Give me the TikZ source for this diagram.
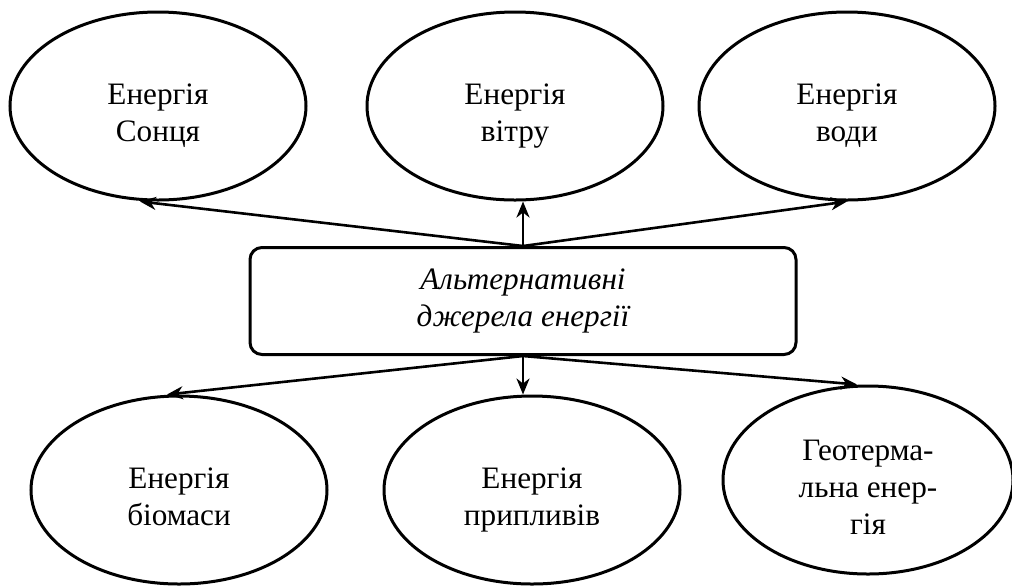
\documentclass[tikz,border=0pt]{standalone}
\usepackage{fontspec}
\setmainfont{Liberation Serif}
\usetikzlibrary{shapes.geometric,arrows.meta}

\newcommand{\lowtext}[1]{\raisebox{-5pt}[\height][\depth]{\begin{tabular}{@{}c@{}}#1\end{tabular}}}

\tikzset{
	source/.style={draw, ellipse, line width=1.5pt, inner sep=0pt, align=center,
		minimum width=148pt, minimum height=94pt},
	hub/.style={draw, rounded corners=6pt, line width=1.5pt, align=center,
		minimum width=273pt, minimum height=53.5pt, font=\fontsize{15.6}{18.5}\selectfont\itshape},
	link/.style={-{Stealth[length=8pt,width=6.5pt,inset=2.5pt]}, line width=1.3pt}
}

\begin{document}
\begin{tikzpicture}[x=0.5pt, y=-0.5pt, font=\fontsize{15.6}{18.5}\selectfont]
	\useasboundingbox (0,0) rectangle (1012,585);

	\node[source] (sun) at (158,106) {\lowtext{Енергія\\Сонця}};
	\node[source] (wind) at (515,106) {\lowtext{Енергія\\вітру}};
	\node[source] (water) at (847,106) {\lowtext{Енергія\\води}};
	\node[hub] (alt) at (523,301) {Альтернативні\\джерела енергії};
	\node[source] (bio) at (179,490) {\lowtext{Енергія\\біомаси}};
	\node[source] (tide) at (532,490) {\lowtext{Енергія\\припливів}};
	\node[source, minimum width=145pt] (geo) at (868,480) {\lowtext{Геотерма-\\льна енер-\\гія}};

	\draw[link] (alt.north) -- ([xshift=-9pt]sun.south);
	\draw[link] (alt.north) -- (alt.north |- wind.south);
	\draw[link] (alt.north) -- (water.south);
	\draw[link] (alt.south) -- ([xshift=-6pt]bio.north);
	\draw[link] (alt.south) -- (alt.south |- tide.north);
	\draw[link] (alt.south) -- ([xshift=-5.5pt]geo.north);
\end{tikzpicture}
\end{document}
